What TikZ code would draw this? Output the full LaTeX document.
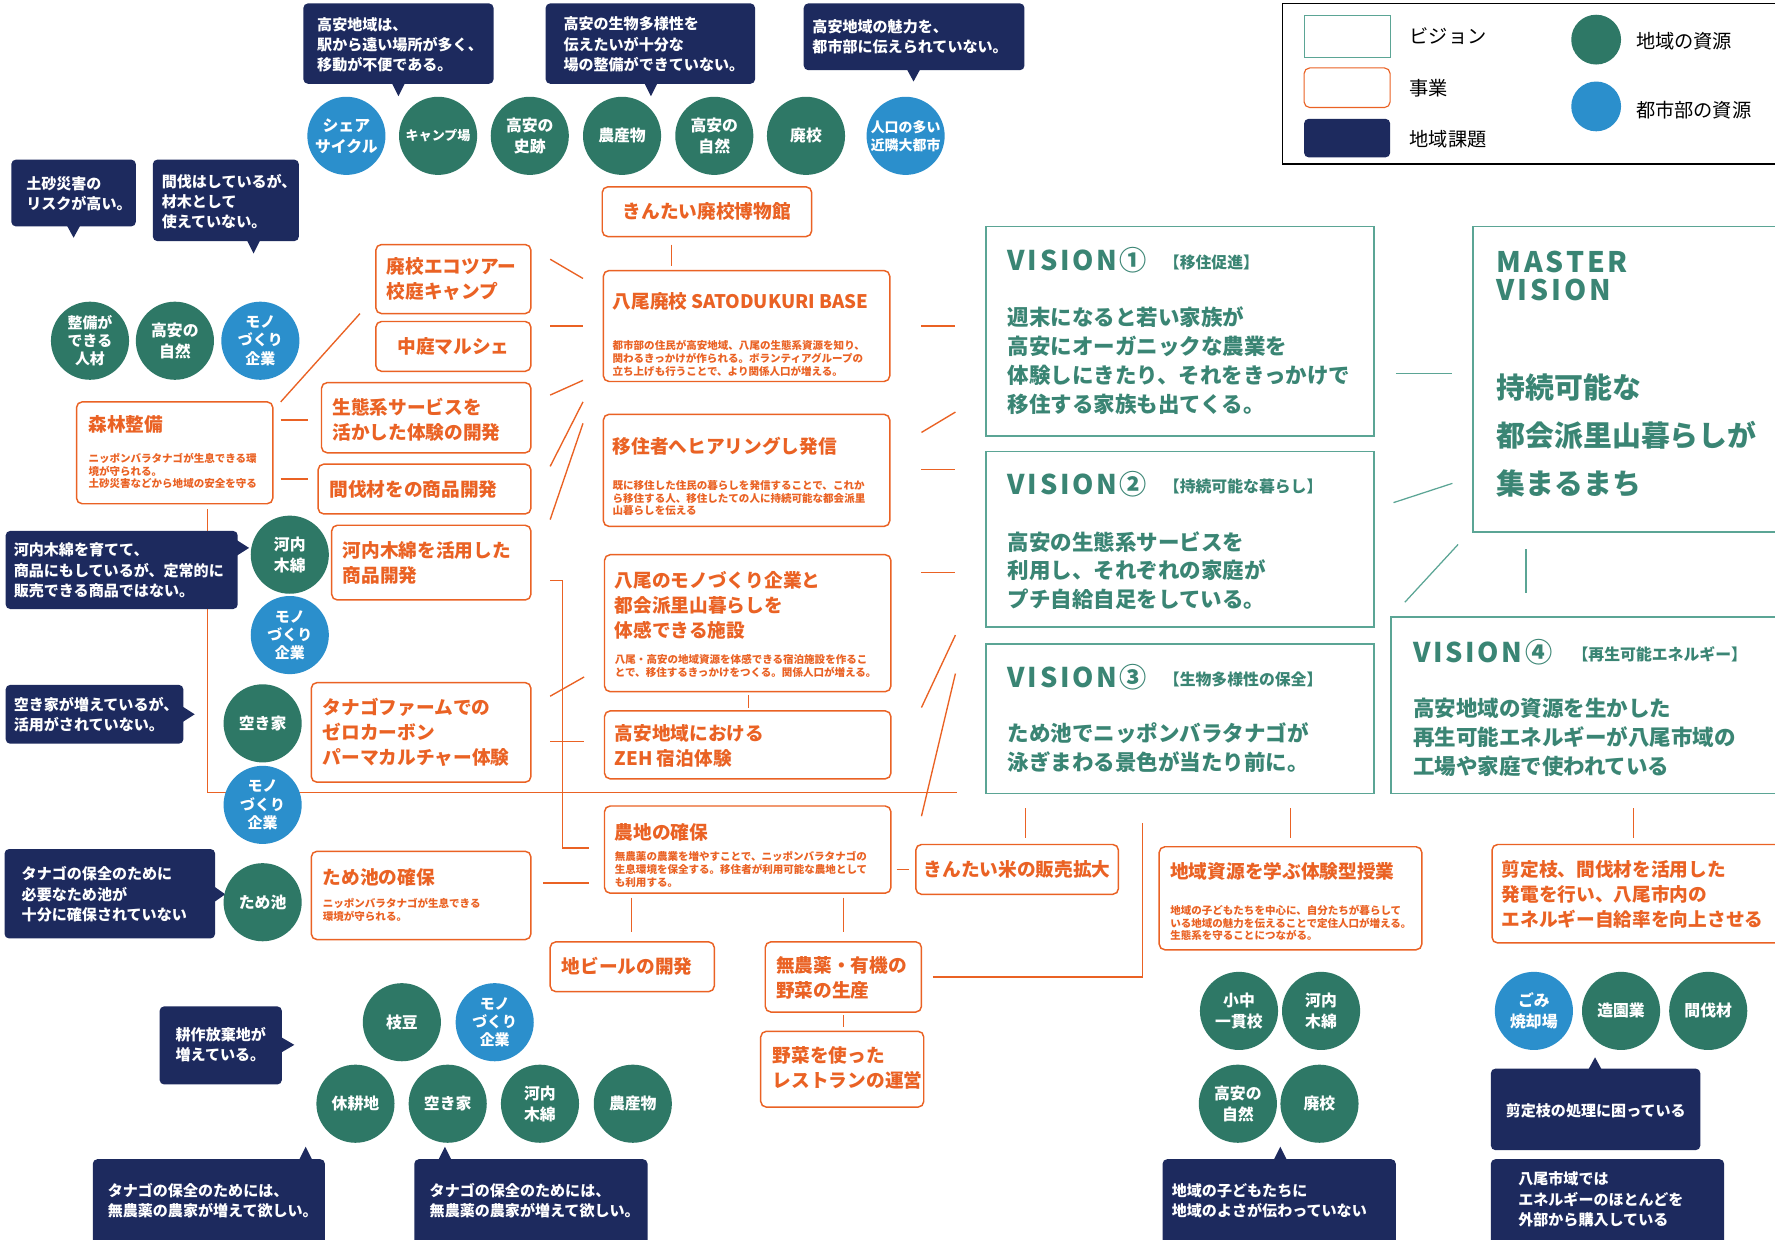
\documentclass[tikz,border=0pt]{standalone}
\usepackage{fontspec}
\setmainfont{Noto Sans CJK JP}
\newfontfamily\visfont[LetterSpace=10]{Noto Sans CJK JP}
\usetikzlibrary{fit}
\definecolor{navy}{HTML}{1D2A5E}
\definecolor{gc}{HTML}{2E7866}
\definecolor{bc}{HTML}{2B8FCC}
\definecolor{orc}{HTML}{EA6224}
\definecolor{vgr}{HTML}{5BA595}
\definecolor{vtx}{HTML}{3A8574}
\newcommand\myfs[2]{\fontsize{#1}{#2}\selectfont}
\tikzset{
  obox/.style={draw=orc, line width=1.3pt, rounded corners=5pt, fill=white, inner sep=0pt},
  vbox/.style={draw=vgr, line width=1.4pt, fill=white, inner sep=0pt},
  nbub/.style={fill=navy, rounded corners=4pt, inner sep=0pt},
  gres/.style={circle, fill=gc, text=white, font=\bfseries\myfs{14}{18.5}, align=center, minimum size=69pt, inner sep=0pt},
  gres3/.style={gres, font=\bfseries\myfs{13.2}{16}},
  bres/.style={gres, fill=bc},
  bres3/.style={gres3, fill=bc},
  oline/.style={draw=orc, line width=1.2pt},
  gline/.style={draw=vgr, line width=1.1pt},
  bt/.style={text=white, font=\bfseries\myfs{13.3}{18}, align=left, anchor=west, inner sep=0pt},
  ot/.style={text=orc, font=\bfseries\myfs{16.5}{22.2}, align=left, anchor=west, inner sep=0pt},
  otc/.style={ot, anchor=center},
  os/.style={text=orc, font=\bfseries\myfs{9.3}{11.2}, align=left, anchor=west, inner sep=0pt},
  vt/.style={text=vtx, font=\visfont\bfseries\myfs{24}{28}, anchor=west, inner sep=0pt},
  vtag/.style={text=vtx, font=\bfseries\myfs{14}{16}, anchor=west, inner sep=0pt},
  vb/.style={text=vtx, font=\bfseries\myfs{19}{25.5}, align=left, anchor=west, inner sep=0pt},
  mb/.style={text=vtx, font=\bfseries\myfs{25.5}{42.5}, align=left, anchor=west, inner sep=0pt},
  mt/.style={text=vtx, font=\visfont\bfseries\myfs{25}{25}, align=left, anchor=west, inner sep=0pt},
  lt/.style={text=black, font=\myfs{17}{20}, anchor=west, inner sep=0pt},
}
\begin{document}
\begin{tikzpicture}[x=1pt,y=-1pt]
\useasboundingbox (0,0) rectangle (1568,1095);
\fill[white] (0,0) rectangle (1568,1095);

% ---------- orange connectors ----------
\draw[oline] (593,216) coordinate (a1) -- (593,235) coordinate (a2);
\draw[oline] (486,229) coordinate (a3) -- (515,246) coordinate (a4);
\draw[oline] (486,288) coordinate (a5) -- (515,288) coordinate (a6);
\draw[oline] (486,349) coordinate (a7) -- (515,336) coordinate (a8);
\draw[oline] (486,412) coordinate (a9) -- (515,355) coordinate (a10);
\draw[oline] (486,459) coordinate (a11) -- (515,374) coordinate (a12);
\draw[oline] (248,355) coordinate (a13) -- (318,277) coordinate (a14);
\draw[oline] (248,371) coordinate (a15) -- (272,371) coordinate (a16);
\draw[oline] (248,423) coordinate (a17) -- (272,423) coordinate (a18);
\draw[oline] (183.5,450) coordinate (a19) |- (845,700) coordinate (a20);
\draw[oline] (486,513) coordinate (a21) -| (497,749) -- (520,749) coordinate (a22);
\draw[oline] (486,615) coordinate (a23) -- (516,598) coordinate (a24);
\draw[oline] (486,655) coordinate (a25) -- (516,655) coordinate (a26);
\draw[oline] (480,780) coordinate (a27) -- (520,780) coordinate (a28);
\draw[oline] (661,614) coordinate (a29) -- (661,625) coordinate (a30);
\draw[oline] (792,768) coordinate (a31) -- (803,768) coordinate (a32);
\draw[oline] (558,793) coordinate (a33) -- (558,823) coordinate (a34);
\draw[oline] (745,793) coordinate (a35) -- (745,823) coordinate (a36);
\draw[oline] (745,897) coordinate (a37) -- (745,907) coordinate (a38);
\draw[oline] (824,863) coordinate (a39) -| (1009,727) coordinate (a40);
\draw[oline] (814,288) coordinate (a41) -- (844,288) coordinate (a42);
\draw[oline] (814,382) coordinate (a43) -- (844,364) coordinate (a44);
\draw[oline] (814,415) coordinate (a45) -- (844,415) coordinate (a46);
\draw[oline] (814,506) coordinate (a47) -- (844,506) coordinate (a48);
\draw[oline] (814,625) coordinate (a49) -- (844,561) coordinate (a50);
\draw[oline] (814,721) coordinate (a51) -- (844,595) coordinate (a52);
\draw[oline] (906,714) coordinate (a53) -- (906,740) coordinate (a54);
\draw[oline] (1140,714) coordinate (a55) -- (1140,740) coordinate (a56);
\draw[oline] (1443,714) coordinate (a57) -- (1443,740) coordinate (a58);
% ---------- vision connectors ----------
\draw[gline] (1233,330) coordinate (g1) -- (1283,330) coordinate (g2);
\draw[gline] (1231,444) coordinate (g3) -- (1283,427) coordinate (g4);
\draw[gline] (1288,481) coordinate (g5) -- (1241,532) coordinate (g6);
\draw[gline] (1348,485) coordinate (g7) -- (1348,524) coordinate (g8);

% ---------- legend ----------
\node[draw=black, line width=1.2pt, inner sep=0pt, fit={(1133,3) (1585,145)}] (lg) {};
\node[vbox, line width=1pt, fit={(1152,14) (1228,51)}] (lgv) {};
\node[obox, line width=1pt, fit={(1152,60) (1228,95)}] (lgo) {};
\node[nbub, fit={(1152,105) (1228,139)}] (lgn) {};
\node[lt] (lgvt) at (1245,32) {ビジョン};
\node[lt] (lgot) at (1245,78) {事業};
\node[lt] (lgnt) at (1245,123) {地域課題};
\node[circle, fill=gc, minimum size=44pt, inner sep=0pt] (lgg) at (1410,35) {};
\node[circle, fill=bc, minimum size=44pt, inner sep=0pt] (lgb) at (1410,94) {};
\node[lt] (lggt) at (1445,36) {地域の資源};
\node[lt] (lgbt) at (1445,97) {都市部の資源};

% ---------- vision boxes ----------
\node[vbox, fit={(871,200) (1214,385)}] (v1) {};
\node[vt] (v1t) at (890,230) {VISION①};
\node[vtag] (v1g) at (1028,232) {【移住促進】};
\node[vb] (v1b) at (890,318.5) {週末になると若い家族が\\高安にオーガニックな農業を\\体験しにきたり、それをきっかけで\\移住する家族も出てくる。};
\node[vbox, fit={(871,399) (1214,554)}] (v2) {};
\node[vt] (v2t) at (890,428) {VISION②};
\node[vtag] (v2g) at (1028,430) {【持続可能な暮らし】};
\node[vb] (v2b) at (890,504) {高安の生態系サービスを\\利用し、それぞれの家庭が\\プチ自給自足をしている。};
\node[vbox, fit={(871,569) (1214,701)}] (v3) {};
\node[vt] (v3t) at (890,598) {VISION③};
\node[vtag] (v3g) at (1028,600) {【生物多様性の保全】};
\node[vb] (v3b) at (890,660.5) {ため池でニッポンバラタナゴが\\泳ぎまわる景色が当たり前に。};
\node[vbox, fit={(1229,545) (1590,701)}] (v4) {};
\node[vt] (v4t) at (1248,576) {VISION④};
\node[vtag] (v4g) at (1389,578) {【再生可能エネルギー】};
\node[vb] (v4b) at (1248,651.5) {高安地域の資源を生かした\\再生可能エネルギーが八尾市域の\\工場や家庭で使われている};
\node[vbox, fit={(1301,200) (1590,470)}] (vm) {};
\node[mt] (vmt) at (1322,243.5) {MASTER\\VISION};
\node[mb] (vmb) at (1322,384.5) {持続可能な\\都会派里山暮らしが\\集まるまち};

% ---------- orange boxes ----------
\node[obox, fit={(532,165) (717,209)}] (o1) {};
\node[otc] (o1t) at (o1) {きんたい廃校博物館};
\node[obox, fit={(533,239) (786,337)}] (o2) {};
\node[ot] (o2t) at (541,266) {八尾廃校 SATODUKURI BASE};
\node[os] (o2s) at (541,316.5) {都市部の住民が高安地域、八尾の生態系資源を知り、\\関わるきっかけが作られる。ボランティアグループの\\立ち上げも行うことで、より関係人口が増える。};
\node[obox, fit={(533,366) (786,465)}] (o3) {};
\node[ot] (o3t) at (541,394) {移住者へヒアリングし発信};
\node[os] (o3s) at (541,440) {既に移住した住民の暮らしを発信することで、これか\\ら移住する人、移住したての人に持続可能な都会派里\\山暮らしを伝える};
\node[obox, fit={(534,490) (787,611)}] (o4) {};
\node[ot] (o4t) at (543,534.5) {八尾のモノづくり企業と\\都会派里山暮らしを\\体感できる施設};
\node[os] (o4s) at (543,588.5) {八尾・高安の地域資源を体感できる宿泊施設を作るこ\\とで、移住するきっかけをつくる。関係人口が増える。};
\node[obox, fit={(534,628) (787,688)}] (o5) {};
\node[ot] (o5t) at (543,659) {高安地域における\\ZEH 宿泊体験};
\node[obox, fit={(534,712) (787,789)}] (o6) {};
\node[ot] (o6t) at (543,735) {農地の確保};
\node[os] (o6s) at (543,768) {無農薬の農業を増やすことで、ニッポンバラタナゴの\\生息環境を保全する。移住者が利用可能な農地として\\も利用する。};
\node[obox, fit={(809,746) (988,790)}] (o7) {};
\node[otc] (o7t) at (o7) {きんたい米の販売拡大};
\node[obox, fit={(1024,748) (1256,839)}] (o8) {};
\node[ot] (o8t) at (1033.6,770) {地域資源を学ぶ体験型授業};
\node[os] (o8s) at (1033.6,815.5) {地域の子どもたちを中心に、自分たちが暮らして\\いる地域の魅力を伝えることで定住人口が増える。\\生態系を守ることにつながる。};
\node[obox, fit={(1318,746) (1590,833)}] (o9) {};
\node[ot] (o9t) at (1326.5,790) {剪定枝、間伐材を活用した\\発電を行い、八尾市内の\\エネルギー自給率を向上させる};
\node[obox, fit={(676,832) (814,894)}] (o10) {};
\node[ot] (o10t) at (685.5,864) {無農薬・有機の\\野菜の生産};
\node[obox, fit={(672,911) (816,978)}] (o11) {};
\node[ot] (o11t) at (682.6,943) {野菜を使った\\レストランの運営};
\node[obox, fit={(486,832) (631,876)}] (o12) {};
\node[ot] (o12t) at (496,854) {地ビールの開発};
\node[obox, fit={(332,216) (469,277)}] (o13) {};
\node[ot] (o13t) at (341.5,246.6) {廃校エコツアー\\校庭キャンプ};
\node[obox, fit={(332,284) (469,328)}] (o14) {};
\node[otc] (o14t) at (o14) {中庭マルシェ};
\node[obox, fit={(284,338) (469,400)}] (o15) {};
\node[ot] (o15t) at (293.5,370.6) {生態系サービスを\\活かした体験の開発};
\node[obox, fit={(281,410) (469,454)}] (o16) {};
\node[ot] (o16t) at (290.8,432) {間伐材をの商品開発};
\node[obox, fit={(293,464) (469,530)}] (o17) {};
\node[ot] (o17t) at (302.6,497) {河内木綿を活用した\\商品開発};
\node[obox, fit={(67.6,355) (241,445)}] (o18) {};
\node[ot] (o18t) at (78,375) {森林整備};
\node[os] (o18s) at (78,416) {ニッポンバラタナゴが生息できる環\\境が守られる。\\土砂災害などから地域の安全を守る};
\node[obox, fit={(275,603) (469,691)}] (o19) {};
\node[ot] (o19t) at (285,647) {タナゴファームでの\\ゼロカーボン\\パーマカルチャー体験};
\node[obox, fit={(275,752) (469,830)}] (o20) {};
\node[ot] (o20t) at (285,775) {ため池の確保};
\node[os] (o20s) at (285,803.5) {ニッポンバラタナゴが生息できる\\環境が守られる。};

% ---------- issue bubbles ----------
\node[nbub, fit={(268,3) (436,74)}] (n1) {};
\fill[navy] (346,73) -- (358,73) -- (352,85) -- cycle;
\node[bt] (n1t) at (280,39.5) {高安地域は、\\駅から遠い場所が多く、\\移動が不便である。};
\node[nbub, fit={(482,3) (667,74)}] (n2) {};
\fill[navy] (569,73) -- (581,73) -- (575,85) -- cycle;
\node[bt] (n2t) at (497.6,39.3) {高安の生物多様性を\\伝えたいが十分な\\場の整備ができていない。};
\node[nbub, fit={(710,3) (905,62)}] (n3) {};
\fill[navy] (801,61) -- (813,61) -- (807,72) -- cycle;
\node[bt] (n3t) at (717.5,32.7) {高安地域の魅力を、\\都市部に伝えられていない。};
\node[nbub, fit={(10,141) (120,200)}] (n4) {};
\fill[navy] (59,199) -- (71,199) -- (65,210) -- cycle;
\node[bt] (n4t) at (23,171) {土砂災害の\\リスクが高い。};
\node[nbub, fit={(135,141) (264,213)}] (n5) {};
\fill[navy] (218,212) -- (230,212) -- (224,224) -- cycle;
\node[bt] (n5t) at (142.7,178) {間伐はしているが、\\材木として\\使えていない。};
\node[nbub, fit={(5,469) (210,538)}] (n6) {};
\fill[navy] (209,477) -- (209,491) -- (220,484) -- cycle;
\node[bt] (n6t) at (12,504) {河内木綿を育てて、\\商品にもしているが、定常的に\\販売できる商品ではない。};
\node[nbub, fit={(5,605) (162,657)}] (n7) {};
\fill[navy] (161,624) -- (161,638) -- (172,631) -- cycle;
\node[bt] (n7t) at (12,631.5) {空き家が増えているが、\\活用がされていない。};
\node[nbub, fit={(4,750) (190,829)}] (n8) {};
\fill[navy] (189,783) -- (189,797) -- (199,790) -- cycle;
\node[bt] (n8t) at (19,790) {タナゴの保全のために\\必要なため池が\\十分に確保されていない};
\node[nbub, fit={(141,889) (249,958)}] (n9) {};
\fill[navy] (248,916) -- (248,930) -- (260,923) -- cycle;
\node[bt] (n9t) at (155,923) {耕作放棄地が\\増えている。};
\node[nbub, fit={(82,1024) (287,1102)}] (n10) {};
\fill[navy] (264,1025) -- (276,1025) -- (270,1013) -- cycle;
\node[bt] (n10t) at (95,1060.5) {タナゴの保全のためには、\\無農薬の農家が増えて欲しい。};
\node[nbub, fit={(366,1024) (572,1102)}] (n11) {};
\fill[navy] (387,1025) -- (399,1025) -- (393,1013) -- cycle;
\node[bt] (n11t) at (379.4,1060.5) {タナゴの保全のためには、\\無農薬の農家が増えて欲しい。};
\node[nbub, fit={(1027,1024) (1233,1102)}] (n12) {};
\fill[navy] (1125,1025) -- (1137,1025) -- (1131,1013) -- cycle;
\node[bt] (n12t) at (1035,1060.5) {地域の子どもたちに\\地域のよさが伝わっていない};
\node[nbub, fit={(1317,944) (1502,1016)}] (n13) {};
\fill[navy] (1403,945) -- (1415,945) -- (1409,934) -- cycle;
\node[bt] (n13t) at (1330,981) {剪定枝の処理に困っている};
\node[nbub, fit={(1317,1024) (1523,1102)}] (n14) {};
\node[bt] (n14t) at (1341,1059.5) {八尾市域では\\エネルギーのほとんどを\\外部から購入している};

% ---------- resources ----------
\node[bres] (r1) at (306,120) {シェア\\サイクル};
\node[gres, font=\bfseries\myfs{11.5}{14}] (r2) at (387,120) {キャンプ場};
\node[gres] (r3) at (468,120) {高安の\\史跡};
\node[gres] (r4) at (549.5,120) {農産物};
\node[gres] (r5) at (631,120) {高安の\\自然};
\node[gres] (r6) at (712,120) {廃校};
\node[bres, font=\bfseries\myfs{12.3}{16}] (r7) at (800,120) {人口の多い\\近隣大都市};
\node[gres3] (r8) at (79.5,301) {整備が\\できる\\人材};
\node[gres] (r9) at (154.5,301) {高安の\\自然};
\node[bres3] (r10) at (230,301) {モノ\\づくり\\企業};
\node[gres] (r11) at (256,490) {河内\\木綿};
\node[bres3] (r12) at (256,561) {モノ\\づくり\\企業};
\node[gres] (r13) at (232,639) {空き家};
\node[bres3] (r14) at (232,711) {モノ\\づくり\\企業};
\node[gres] (r15) at (232,797) {ため池};
\node[gres] (r16) at (355,903) {枝豆};
\node[bres3] (r17) at (437,903) {モノ\\づくり\\企業};
\node[gres] (r18) at (314,975) {休耕地};
\node[gres] (r19) at (395.5,975) {空き家};
\node[gres] (r20) at (477,975) {河内\\木綿};
\node[gres] (r21) at (559,975) {農産物};
\node[gres] (r22) at (1094.5,893) {小中\\一貫校};
\node[gres] (r23) at (1167,893) {河内\\木綿};
\node[gres] (r24) at (1093.5,975) {高安の\\自然};
\node[gres] (r25) at (1165.6,975) {廃校};
\node[bres] (r26) at (1355,893) {ごみ\\焼却場};
\node[gres] (r27) at (1432,893) {造園業};
\node[gres] (r28) at (1509,893) {間伐材};
\end{tikzpicture}
\end{document}
